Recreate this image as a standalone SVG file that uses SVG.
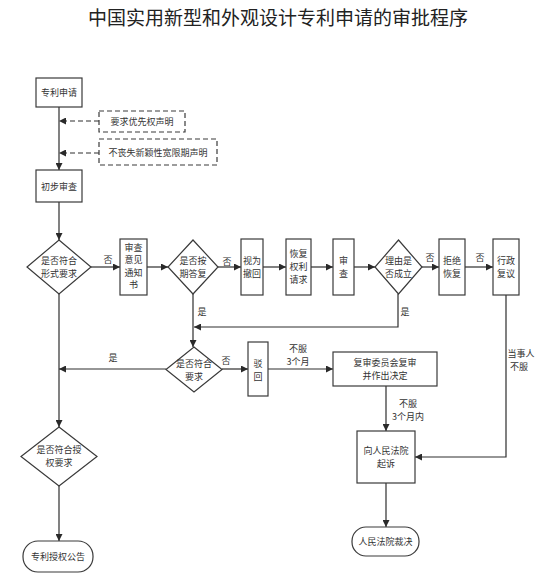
<svg xmlns="http://www.w3.org/2000/svg" width="540" height="574" viewBox="0 0 540 574">
<defs>
<marker id="ah" markerUnits="userSpaceOnUse" markerWidth="8" markerHeight="7" refX="7" refY="3.5" orient="auto">
<path d="M0,0 L7,3.5 L0,7 Z" fill="#2a2a2a"/>
</marker>
</defs>
<style>
.n{fill:#fff;stroke:#3a3a3a;stroke-width:1.2}
.d{fill:#fff;stroke:#3a3a3a;stroke-width:1.2;stroke-dasharray:5,3}
.t{font-family:"Noto Sans CJK SC","Noto Sans CJK TC",sans-serif;font-size:9px;fill:#333;text-anchor:middle;dominant-baseline:central}
.c{fill:none;stroke:#2e2e2e;stroke-width:1.2;marker-end:url(#ah)}
.cd{fill:none;stroke:#2e2e2e;stroke-width:1.2;stroke-dasharray:5,3;marker-end:url(#ah)}
.l{font-family:"Noto Sans CJK SC","Noto Sans CJK TC",sans-serif;font-size:9px;fill:#333;text-anchor:middle;dominant-baseline:central}
</style>
<rect width="540" height="574" fill="#fff"/>
<text x="278" y="16" font-family="Noto Sans CJK SC, sans-serif" font-size="19" fill="#222" text-anchor="middle" dominant-baseline="central">中国实用新型和外观设计专利申请的审批程序</text>

<g id="connectors">
<path class="c" d="M59,107 V170"/>
<path class="cd" d="M99,121 H59"/>
<path class="cd" d="M99,153 H59"/>
<path class="c" d="M59,202 V240"/>
<path class="c" d="M91,267 H120"/>
<path class="c" d="M147,267 H168"/>
<path class="c" d="M218,267 H241"/>
<path class="c" d="M263,267 H286"/>
<path class="c" d="M311,267 H333"/>
<path class="c" d="M354,267 H375"/>
<path class="c" d="M422,267 H439"/>
<path class="c" d="M465,267 H493"/>
<path class="c" d="M398,294 V327 H194"/>
<path class="c" d="M193,294 V347"/>
<path class="c" d="M166,369 H59"/>
<path class="c" d="M222,369 H248"/>
<path class="c" d="M268,369 H333"/>
<path class="c" d="M386,386 V431"/>
<path class="c" d="M506,295 V457 H415"/>
<path class="c" d="M59,294 V427"/>
<path class="c" d="M59,486 V541"/>
<path class="c" d="M386,483 V527"/>
<text class="l" x="108" y="259">否</text>
<text class="l" x="227" y="261">否</text>
<text class="l" x="430" y="257">否</text>
<text class="l" x="480" y="257">否</text>
<text class="l" x="405" y="311">是</text>
<text class="l" x="202" y="311">是</text>
<text class="l" x="113" y="357">是</text>
<text class="l" x="226" y="360">否</text>
<text class="l" x="298" y="348">不服</text>
<text class="l" x="298" y="361">3个月</text>
<text class="l" x="408" y="403">不服</text>
<text class="l" x="408" y="416">3个月内</text>
<text class="l" x="521" y="353">当事人</text>
<text class="l" x="519" y="366">不服</text>
</g>

<g id="n_apply"><rect class="n" x="36" y="78" width="46" height="29"/><text class="t" x="59" y="92.5">专利申请</text></g>
<g id="n_priority"><rect class="d" x="99" y="111" width="86" height="21"/><text class="t" x="142" y="121.5">要求优先权声明</text></g>
<g id="n_grace"><rect class="d" x="99" y="139" width="118" height="26"/><text class="t" x="158" y="152">不丧失新颖性宽限期声明</text></g>
<g id="n_prelim"><rect class="n" x="36" y="170" width="46" height="32"/><text class="t" x="59" y="186">初步审查</text></g>
<g id="n_form"><polygon class="n" points="59,240 91,267 59,294 27,267"/><text class="t" x="59" y="260.5">是否符合</text><text class="t" x="59" y="273.5">形式要求</text></g>
<g id="n_notice"><rect class="n" x="120" y="239" width="27" height="56"/><text class="t" x="133.5" y="247">审查</text><text class="t" x="133.5" y="259.5">意见</text><text class="t" x="133.5" y="272">通知</text><text class="t" x="133.5" y="284.5">书</text></g>
<g id="n_ontime"><polygon class="n" points="193,240 218,267 193,294 168,267"/><text class="t" x="193" y="260.5">是否按</text><text class="t" x="193" y="273.5">期答复</text></g>
<g id="n_withdraw"><rect class="n" x="241" y="239" width="22" height="56"/><text class="t" x="252" y="260.5">视为</text><text class="t" x="252" y="273.5">撤回</text></g>
<g id="n_restore"><rect class="n" x="286" y="239" width="25" height="56"/><text class="t" x="298.5" y="253">恢复</text><text class="t" x="298.5" y="266">权利</text><text class="t" x="298.5" y="279">请求</text></g>
<g id="n_exam"><rect class="n" x="333" y="239" width="21" height="56"/><text class="t" x="343.5" y="260.5">审</text><text class="t" x="343.5" y="273.5">查</text></g>
<g id="n_reason"><polygon class="n" points="398.5,240 422,267 398.5,294 375,267"/><text class="t" x="398.5" y="260.5">理由是</text><text class="t" x="398.5" y="273.5">否成立</text></g>
<g id="n_refuse"><rect class="n" x="439" y="239" width="26" height="56"/><text class="t" x="452" y="260.5">拒绝</text><text class="t" x="452" y="273.5">恢复</text></g>
<g id="n_admin"><rect class="n" x="493" y="239" width="26" height="56"/><text class="t" x="506" y="260.5">行政</text><text class="t" x="506" y="273.5">复议</text></g>
<g id="n_meet"><polygon class="n" points="194,347 222,369.5 194,392 166,369.5"/><text class="t" x="194" y="363">是否符合</text><text class="t" x="194" y="376">要求</text></g>
<g id="n_reject"><rect class="n" x="248" y="342" width="20" height="54"/><text class="t" x="258" y="363">驳</text><text class="t" x="258" y="376">回</text></g>
<g id="n_board"><rect class="n" x="333" y="352" width="104" height="34"/><text class="t" x="385" y="362.5">复审委员会复审</text><text class="t" x="385" y="375.5">并作出决定</text></g>
<g id="n_sue"><rect class="n" x="357" y="431" width="58" height="52"/><text class="t" x="386" y="450">向人民法院</text><text class="t" x="386" y="463">起诉</text></g>
<g id="n_grant"><polygon class="n" points="59,427 97,456.5 59,486 21,456.5"/><text class="t" x="59" y="449.5">是否符合授</text><text class="t" x="59" y="462.5">权要求</text></g>
<g id="n_announce"><rect class="n" x="23" y="541" width="70" height="31" rx="15" ry="15"/><text class="t" x="58" y="556.5">专利授权公告</text></g>
<g id="n_verdict"><rect class="n" x="352" y="527" width="67" height="29" rx="14" ry="14"/><text class="t" x="385.5" y="541.5">人民法院裁决</text></g>
</svg>
